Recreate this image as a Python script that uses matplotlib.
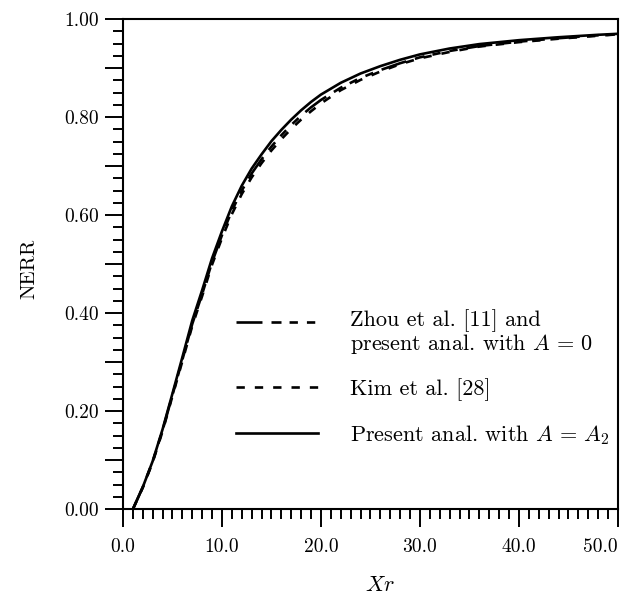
import matplotlib
matplotlib.use("Agg")
import matplotlib.pyplot as plt
from matplotlib.ticker import MultipleLocator, FuncFormatter
from matplotlib.legend_handler import HandlerLine2D

plt.rcParams['font.family'] = ['cmr10', 'DejaVu Serif']
plt.rcParams['mathtext.fontset'] = 'cm'
plt.rcParams['axes.formatter.use_mathtext'] = True
plt.rcParams['lines.scale_dashes'] = False

# ---- data ----
xr = [1, 2, 3, 4, 5, 6, 7, 8, 9, 10, 11, 12, 13, 14, 15, 16, 17, 18, 19,
      20, 22, 24, 26, 28, 30, 33, 36, 40, 44, 48, 50]
nerr_present = [0.0, 0.045, 0.098, 0.163, 0.236, 0.310, 0.385, 0.447, 0.512,
                0.567, 0.618, 0.660, 0.695, 0.724, 0.751, 0.774, 0.795, 0.814,
                0.831, 0.846, 0.870, 0.889, 0.904, 0.917, 0.928, 0.940, 0.949,
                0.957, 0.963, 0.968, 0.970]
nerr_zhou = [0.0, 0.045, 0.097, 0.161, 0.233, 0.305, 0.378, 0.439, 0.504,
             0.559, 0.609, 0.650, 0.685, 0.714, 0.740, 0.763, 0.784, 0.803,
             0.820, 0.835, 0.860, 0.880, 0.896, 0.910, 0.922, 0.935, 0.945,
             0.954, 0.961, 0.967, 0.969]
nerr_kim = [0.0, 0.044, 0.096, 0.159, 0.231, 0.302, 0.374, 0.435, 0.499,
            0.553, 0.602, 0.643, 0.677, 0.706, 0.732, 0.755, 0.776, 0.795,
            0.812, 0.828, 0.855, 0.876, 0.893, 0.908, 0.920, 0.933, 0.944,
            0.953, 0.960, 0.966, 0.969]

labels = ["Zhou et al. [11] and\npresent anal. with $A\\,=\\,0$",
          "Kim et al. [28]",
          "Present anal. with $A\\,=\\,A_2$"]


class RaisedHandler(HandlerLine2D):
    """Align the handle with the first line of a two-line label."""
    def __init__(self, dy, **kw):
        super().__init__(**kw)
        self.dy = dy

    def create_artists(self, legend, orig_handle, xdescent, ydescent,
                       width, height, fontsize, trans):
        arts = super().create_artists(legend, orig_handle, xdescent,
                                      ydescent, width, height, fontsize, trans)
        for a in arts:
            if hasattr(a, 'get_ydata'):
                a.set_ydata([y + self.dy for y in a.get_ydata()])
        return arts


fig = plt.figure(figsize=(6.21, 5.97), dpi=100)
ax = fig.add_axes([0.198, 0.147, 0.797, 0.821])

lw = 1.9
l1, = ax.plot(xr, nerr_zhou, color='black', lw=lw,
              dashes=[18.7, 6.5, 7.2, 5.8, 6.0, 6.5, 6.0, 6.5])
l2, = ax.plot(xr, nerr_kim, color='black', lw=lw, dashes=[6.0, 7.2])
l3, = ax.plot(xr, nerr_present, color='black', lw=lw)

ax.set_xlim(0, 50)
ax.set_ylim(0, 1.0)

ax.xaxis.set_major_locator(MultipleLocator(10))
ax.xaxis.set_minor_locator(MultipleLocator(1))
ax.yaxis.set_major_locator(MultipleLocator(0.1))
ax.yaxis.set_minor_locator(MultipleLocator(0.025))

ax.xaxis.set_major_formatter(FuncFormatter(lambda v, p: f"{v:.1f}"))


def yfmt(v, p):
    k = round(v * 10)
    if k % 2 == 0:
        return f"{v:.2f}"
    return ""


ax.yaxis.set_major_formatter(FuncFormatter(yfmt))

ax.tick_params(which='both', direction='out', top=False, right=False,
               labelsize=14, width=1.4)
ax.tick_params(which='major', length=13)
ax.tick_params(which='minor', length=7)
ax.tick_params(axis='x', which='major', pad=8)
ax.tick_params(axis='y', which='major', pad=4)

for s in ax.spines.values():
    s.set_linewidth(1.5)

ax.set_xlabel("$Xr$", fontsize=16)
ax.set_ylabel("NERR", fontsize=15)
ax.yaxis.set_label_coords(-0.17, 0.49)
ax.xaxis.set_label_coords(0.52, -0.135)

leg = ax.legend([l1, l2, l3], labels, loc='upper left',
                bbox_to_anchor=(0.228, 0.408), frameon=False, fontsize=16,
                handlelength=3.7, handletextpad=1.44, labelspacing=1.0,
                borderpad=0, borderaxespad=0,
                handler_map={l1: RaisedHandler(dy=7.5)})
for t in leg.get_texts():
    t.set_linespacing(1.0)

fig.canvas.draw()
for lab in ax.get_xticklabels():
    if lab.get_text() == "50.0":
        lab.set_horizontalalignment('right')
        lab.set_x(50)

fig.savefig("out.png", dpi=100)
